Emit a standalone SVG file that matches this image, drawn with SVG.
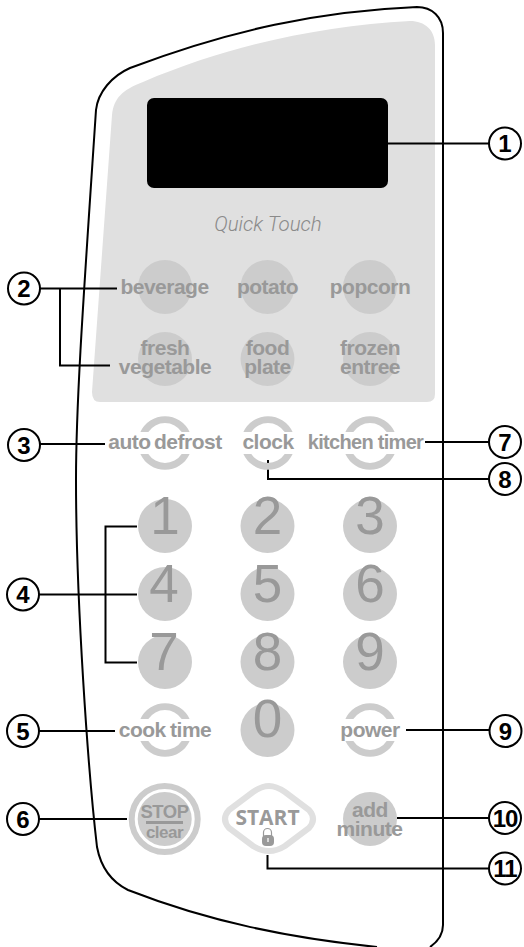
<svg xmlns="http://www.w3.org/2000/svg" width="524" height="947" viewBox="0 0 524 947">
<style>
text{font-family:"Liberation Sans",Arial,sans-serif}
.k{font-weight:700;font-size:21px;letter-spacing:-0.500px;fill:#999;text-anchor:middle}
.n{font-size:53px;fill:#999;text-anchor:middle}
.b{fill:#ccc}
.l{fill:none;stroke:#000;stroke-width:2}
.c{fill:#fff;stroke:#000;stroke-width:2}
.t{font-weight:700;font-size:24px;fill:#000;text-anchor:middle}
</style>
<defs>
<path id="ring" fill="#ccc" d="M-24.600-11A27 27 0 0 1 24.600-11H16.700A20 20 0 0 0-16.700-11ZM-24.600 11A27 27 0 0 0 24.600 11H16.700A20 20 0 0 1-16.700 11Z"/>
</defs>
<g id="housing"><path d="M443 33C443 17 432 7 417 7C320 11 230 30 130 68C112 76 98 92 96 110C84 290 76 400 76 480C76 600 88 770 97 847C101 868 112 882 128 890C210 922 290 938 377 947" fill="none" stroke="#000" stroke-width="2"/><path d="M443 33V925Q443 938 430 947" fill="none" stroke="#000" stroke-width="2"/></g>
<g id="panel"><path d="M435 45C435 30 425 21 410 21C320 26 230 45 143 82C122 90 114 98 112 115L92 392Q92 402 100 402H427Q435 402 435 394Z" fill="#e0e0e0"/></g>
<g id="display"><rect x="147" y="98" width="241" height="90" rx="7" fill="#000"/></g>
<g id="quick-touch"><text x="268" y="231" font-size="20.500" font-style="italic" font-weight="300" fill="#8a8a8a" text-anchor="middle" style="font-family:Roboto,sans-serif">Quick Touch</text></g>

<g id="connectors">
<path class="l" d="M388 143.500H489"/>
<path class="l" d="M40 288.500H117M60 288.500V365.500H110"/>
<path class="l" d="M40 444H105"/>
<path class="l" d="M39 594.500H137M137 526.500H105.500V662.500H137"/>
<path class="l" d="M39 731H115"/>
<path class="l" d="M39 819H127"/>
<path class="l" d="M425 442H489"/>
<path class="l" d="M268 460V479H489"/>
<path class="l" d="M406 730H490"/>
<path class="l" d="M397 818H489"/>
<path class="l" d="M267.500 855V868.500H489"/>
</g>

<g id="btn-beverage"><circle class="b" cx="165" cy="287" r="27"/><text class="k" x="164.500" y="294">beverage</text></g>
<g id="btn-potato"><circle class="b" cx="267.500" cy="287" r="27"/><text class="k" x="267.500" y="294">potato</text></g>
<g id="btn-popcorn"><circle class="b" cx="370" cy="287" r="27"/><text class="k" x="370" y="294">popcorn</text></g>
<g id="btn-fresh-vegetable"><circle class="b" cx="165" cy="359" r="27"/><text class="k" x="165" y="355">fresh</text><text class="k" x="165" y="374">vegetable</text></g>
<g id="btn-food-plate"><circle class="b" cx="267.500" cy="359" r="27"/><text class="k" x="267.500" y="355">food</text><text class="k" x="267.500" y="374">plate</text></g>
<g id="btn-frozen-entree"><circle class="b" cx="370" cy="359" r="27"/><text class="k" x="370" y="355">frozen</text><text class="k" x="370" y="374">entree</text></g>

<g id="btn-auto-defrost"><use href="#ring" x="165" y="443"/><text class="k" x="165" y="449" style="word-spacing:-2px">auto defrost</text></g>
<g id="btn-clock"><use href="#ring" x="268" y="443"/><text class="k" x="268" y="449">clock</text></g>
<g id="btn-kitchen-timer"><use href="#ring" x="370" y="443"/><text class="k" x="365.500" y="449" style="font-size:20px;letter-spacing:-0.700px">kitchen timer</text></g>

<g id="btn-1"><circle class="b" cx="165" cy="526" r="27"/><text class="n" x="165" y="534">1</text></g>
<g id="btn-2"><circle class="b" cx="267.500" cy="526" r="27"/><text class="n" x="267.500" y="534">2</text></g>
<g id="btn-3"><circle class="b" cx="370" cy="526" r="27"/><text class="n" x="370" y="534">3</text></g>
<g id="btn-4"><circle class="b" cx="165" cy="594" r="27"/><text class="n" x="164" y="602">4</text></g>
<g id="btn-5"><circle class="b" cx="267.500" cy="594" r="27"/><text class="n" x="267.500" y="602">5</text></g>
<g id="btn-6"><circle class="b" cx="370" cy="594" r="27"/><text class="n" x="370" y="602">6</text></g>
<g id="btn-7"><circle class="b" cx="165" cy="662" r="27"/><text class="n" x="164" y="670">7</text></g>
<g id="btn-8"><circle class="b" cx="267.500" cy="662" r="27"/><text class="n" x="267.500" y="670">8</text></g>
<g id="btn-9"><circle class="b" cx="370" cy="662" r="27"/><text class="n" x="370" y="670">9</text></g>
<g id="btn-0"><circle class="b" cx="267.500" cy="730" r="27"/><text class="n" x="267.500" y="737">0</text></g>

<g id="btn-cook-time"><use href="#ring" x="165" y="730"/><text class="k" x="165" y="737" style="word-spacing:-1px">cook time</text></g>
<g id="btn-power"><use href="#ring" x="370" y="730"/><text class="k" x="370" y="737">power</text></g>

<g id="btn-stop"><circle cx="164.700" cy="819" r="33" fill="none" stroke="#ccc" stroke-width="6"/><circle class="b" cx="164.700" cy="819" r="27"/><text class="k" x="164.500" y="818" style="font-size:18.500px">STOP</text><rect x="146" y="821" width="37" height="3" fill="#999"/><text class="k" x="164.500" y="838" style="font-size:17px">clear</text></g>
<g id="btn-start"><path d="M269 786Q276 786 285 792L309 810Q317 819 309 828L285 846Q269 856 253 846L229 828Q221 819 229 810L253 792Q262 786 269 786Z" fill="#fff" stroke="#e0e0e0" stroke-width="6"/><text x="267.500" y="825" font-size="21" font-weight="700" fill="#999" text-anchor="middle" style="font-family:'Open Sans',sans-serif">START</text><path d="M263.500 836V832.500A4 4 0 0 1 271.500 832.500V836" fill="none" stroke="#999" stroke-width="1.200"/><rect x="262" y="835" width="12" height="11" rx="4" fill="#999"/><rect x="267.200" y="838" width="1.600" height="4" fill="#e8e8e8"/></g>
<g id="btn-add-minute"><circle class="b" cx="370" cy="819" r="27"/><text class="k" x="370" y="817">add</text><text class="k" x="369.500" y="836">minute</text></g>

<g id="callout-1"><circle class="c" cx="505" cy="143.500" r="16"/><text class="t" x="505" y="152">1</text></g>
<g id="callout-2"><circle class="c" cx="24" cy="288.500" r="16"/><text class="t" x="24" y="297">2</text></g>
<g id="callout-3"><circle class="c" cx="24" cy="445" r="16"/><text class="t" x="24" y="453.500">3</text></g>
<g id="callout-4"><circle class="c" cx="23" cy="594.500" r="16"/><text class="t" x="23" y="603">4</text></g>
<g id="callout-5"><circle class="c" cx="23" cy="731" r="16"/><text class="t" x="23" y="739.500">5</text></g>
<g id="callout-6"><circle class="c" cx="23" cy="819" r="16"/><text class="t" x="23" y="827.500">6</text></g>
<g id="callout-7"><circle class="c" cx="505" cy="442" r="16"/><text class="t" x="505" y="450.500">7</text></g>
<g id="callout-8"><circle class="c" cx="505" cy="479" r="16"/><text class="t" x="505" y="487.500">8</text></g>
<g id="callout-9"><circle class="c" cx="505.500" cy="731" r="16"/><text class="t" x="505.500" y="739.500">9</text></g>
<g id="callout-10"><circle class="c" cx="505" cy="818" r="16"/><text class="t" x="505" y="826.500" style="letter-spacing:-1px">10</text></g>
<g id="callout-11"><circle class="c" cx="505" cy="868.500" r="16"/><text class="t" x="505" y="877" style="letter-spacing:-1px">11</text></g>
</svg>
